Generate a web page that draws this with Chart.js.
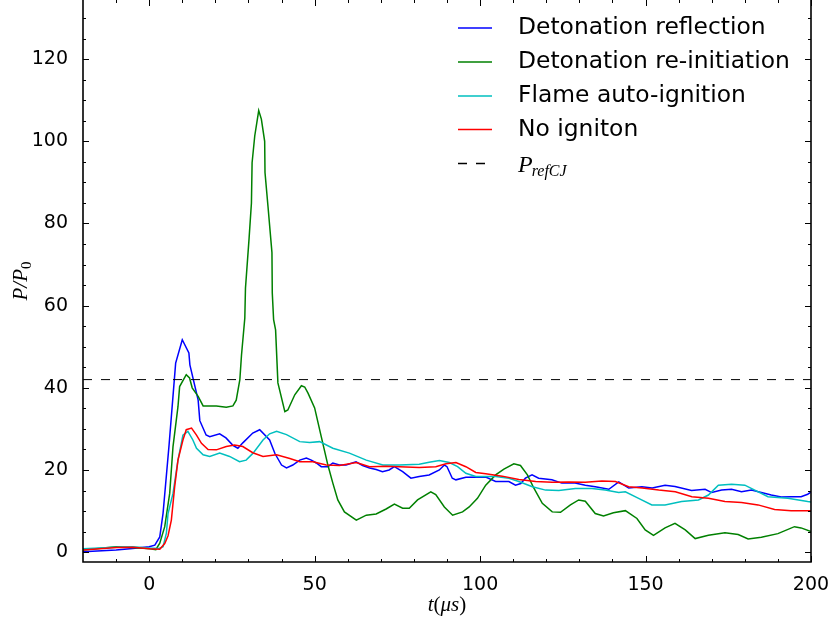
<!DOCTYPE html>
<html>
<head>
<meta charset="utf-8">
<script src="https://cdn.jsdelivr.net/npm/chart.js@4.4.0/dist/chart.umd.min.js"></script>
<style>
  html, body { margin: 0; padding: 0; background: #fff; }
  canvas { display: block; }
</style>
</head>
<body>
<canvas id="myChart" width="832" height="623"></canvas>
<script>
// time (us) and P/P0, one pair of arrays per case
var tReflection = [-20, -10, -5, 0, 1.7, 3.2, 4.2, 6, 8, 10, 12, 12.3, 14.8, 15.3, 17.2, 18.3, 21.3, 23.2, 25.3, 26.8,
    28.3, 31.3, 33.4, 36.4, 38, 40, 41.5, 43.4, 45.5, 47.5, 49, 50.5, 52, 54, 55.5, 57.5, 59.5, 62.5, 64.5, 66.6,
    68.6, 70.5, 72.5, 74.1, 76.6, 79.1, 81.6, 84.6, 87.7, 89.2, 90, 91.6, 92.7, 95.7, 101.7, 104.7, 108.7, 110.7, 112.3, 113.7,
    115.7, 117.7, 121.7, 124.7, 128.7, 131.8, 134.8, 138.9, 141.9, 144.9, 148.9, 152, 155.9, 158.9, 163.9, 168, 170, 173, 176, 179,
    182, 185, 188, 191, 194, 197, 199, 200];
var pReflection = [0.1, 0.5, 0.9, 1.3, 1.7, 3.7, 9.5, 26, 46, 51.7, 48.5, 45.6, 37, 32, 28.5, 28.1, 28.8, 27.8, 26, 25.3,
    26.6, 29, 29.8, 27.3, 24, 21.2, 20.5, 21.2, 22.4, 22.9, 22.4, 21.7, 20.8, 20.8, 21.7, 21.2, 21.2, 22, 21.1, 20.5,
    20.1, 19.6, 20, 20.8, 19.6, 18, 18.4, 18.8, 20, 21.2, 20.8, 18, 17.6, 18.2, 18.3, 17.2, 17.2, 16.3, 16.7, 18,
    18.8, 18, 17.6, 16.8, 16.8, 16.3, 15.9, 15.3, 17.1, 15.6, 15.9, 15.6, 16.3, 16, 15, 15.3, 14.5, 15.1, 15.3, 14.7,
    15.1, 14.5, 13.9, 13.4, 13.5, 13.5, 14.1, 14.6];

var tReinit = [-20, -10, -5, 0.2, 2, 3.2, 4.7, 6.2, 7.2, 8.7, 9.2, 11.2, 12.2, 13, 14.8, 16.3, 20.3, 23.3, 25.3, 26.3,
    27.4, 27.9, 28.9, 29.1, 30.2, 30.9, 31.1, 31.9, 33.1, 33.9, 34.9, 35.0, 35.9, 37.1, 37.2, 37.6, 38.2, 38.9, 41, 41.9,
    44, 46, 47, 48, 50, 52, 54, 55.5, 57, 59, 62.6, 65.6, 68.6, 71.6, 74.1, 76.6, 78.6, 81.1, 85.1, 86.6,
    89.2, 91.7, 94.7, 96.7, 99.2, 101.7, 104.7, 107.2, 110.2, 112.2, 114.3, 116.3, 118.8, 121.8, 124.3, 127.3, 129.8, 131.8, 134.8, 137.3,
    140.3, 143.9, 147.4, 149.9, 152.4, 155.9, 158.9, 162, 165, 169, 174, 178, 181, 185, 190, 195, 197, 200];
var pReinit = [0.5, 1.3, 1.1, 0.8, 0.6, 2.2, 6.2, 14.3, 25.7, 35.4, 40.3, 43.2, 42.4, 40, 37.9, 35.6, 35.6, 35.3, 35.6, 37,
    42, 48, 57, 64.3, 76.5, 85, 94.8, 101.3, 107.5, 105.4, 100, 92.4, 84.2, 72.9, 63.1, 56.6, 54.1, 41.2, 34.2, 34.6,
    38.3, 40.5, 40.2, 38.7, 35.1, 28.1, 21.2, 16.8, 12.7, 9.8, 7.8, 9, 9.3, 10.5, 11.7, 10.7, 10.7, 12.7, 14.7, 14,
    11, 9, 9.8, 11, 13.1, 16.3, 18.8, 20.2, 21.5, 21.1, 18.8, 15.5, 11.9, 9.8, 9.7, 11.5, 12.7, 12.4, 9.4, 8.8,
    9.6, 10.1, 8.2, 5.4, 4.1, 5.9, 7, 5.4, 3.3, 4.1, 4.7, 4.3, 3.2, 3.6, 4.5, 6.2, 5.9, 5.0];

var tAutoIgn = [-20, -10, -5, 0, 3, 4.2, 5.2, 5.7, 7.2, 8.7, 10.2, 11.7, 13.2, 14.3, 16.3, 18.3, 21.3, 24.3, 27.3, 29.3,
    31.4, 34.4, 36.4, 38.5, 41.5, 45.5, 48.5, 51.5, 55.5, 60.5, 65.6, 70.6, 75.6, 81.6, 84.6, 87.7, 90.7, 93.2, 95.7, 98.7,
    104.7, 108.7, 111.7, 115.8, 119.8, 123.8, 128.8, 133.8, 137.8, 141.9, 143.9, 147.9, 151.9, 155.9, 160.9, 166, 169, 172, 176, 180,
    183, 187, 193, 199, 200];
var pAutoIgn = [0.8, 1.2, 1.3, 1.0, 0.9, 1.3, 4.6, 9.4, 14.3, 22.4, 28.5, 29.4, 27.3, 25.3, 23.7, 23.3, 24.1, 23.3, 22, 22.4,
    24.1, 27.3, 28.8, 29.4, 28.6, 26.9, 26.7, 26.9, 25.3, 24.1, 22.4, 21.2, 21.2, 21.4, 21.9, 22.3, 21.8, 20.8, 19.2, 18.4,
    18.4, 18, 17.2, 15.9, 15.1, 15, 15.5, 15.5, 15.1, 14.5, 14.7, 13.1, 11.5, 11.5, 12.3, 12.7, 13.9, 16.3, 16.5, 16.3,
    15.1, 13.5, 13.1, 12.3, 12.2];

var tNoIgn = [-20, -9.8, -5, 0.2, 3.2, 4.7, 5.7, 6.7, 7.7, 8.7, 10.2, 11.2, 12.8, 14.3, 15.8, 17.8, 20.3, 23.3, 25.8, 28.3,
    31.3, 34.4, 38.5, 42.5, 45.5, 49.5, 53.5, 57.5, 62.6, 66.6, 71.6, 75.6, 81.6, 86.6, 89.7, 92.7, 95.7, 98.7, 101.7, 106.7,
    111.7, 116.8, 121.8, 126.8, 131.8, 136.8, 140.9, 144.9, 149, 154, 159, 164, 169, 174, 179, 184, 189, 194, 200];
var pNoIgn = [0.5, 1.1, 1.2, 0.8, 0.7, 2.1, 4, 7.8, 15.9, 22.4, 27.3, 29.8, 30.2, 28.5, 26.5, 25, 24.9, 25.7, 26.1, 25.7,
    24.2, 23.3, 23.7, 22.8, 22, 22, 21.2, 21.1, 21.8, 20.8, 20.9, 20.8, 20.6, 20.8, 21.5, 21.8, 20.8, 19.4, 19.1, 18.5,
    17.7, 17.2, 17, 17.1, 17, 17.3, 17.2, 15.9, 15.6, 15.1, 14.7, 13.5, 13.1, 12.3, 12.1, 11.5, 10.4, 10.1, 10.1];

var tRef = [-20, 200];
var pRef = [42, 42];

var xTicks = [0, 50, 100, 150, 200];
var yTicks = [0, 20, 40, 60, 80, 100, 120];

function pts(t, p) {
    return t.map(function (v, i) { return { x: v, y: p[i] }; });
}

// inward ticks on all four sides + spines (matplotlib classic look)
var axisDecor = {
    id: 'axisDecor',
    afterDatasetsDraw: function (chart) {
        var c = chart.ctx, a = chart.chartArea;
        var xs = chart.scales.x, ys = chart.scales.y;
        c.save();
        c.strokeStyle = '#000';
        c.lineWidth = 1;
        function tick(x1, y1, x2, y2) {
            c.beginPath(); c.moveTo(x1, y1); c.lineTo(x2, y2); c.stroke();
        }
        var v, px, len;
        for (v = -10; v <= 200; v += 10) {
            px = Math.round(xs.getPixelForValue(v)) + 0.5;
            len = v % 50 === 0 ? 6 : 3;
            tick(px, a.bottom, px, a.bottom - len);
            tick(px, a.top, px, a.top + len);
        }
        for (v = 0; v <= 130; v += 5) {
            px = Math.round(ys.getPixelForValue(v)) + 0.5;
            len = v % 20 === 0 ? 6 : 3;
            tick(a.left, px, a.left + len, px);
            tick(a.right, px, a.right - len, px);
        }
        c.lineWidth = 1.6;
        c.beginPath();
        c.moveTo(a.left, a.top - 2);
        c.lineTo(a.left, a.bottom);
        c.lineTo(a.right, a.bottom);
        c.lineTo(a.right, a.top - 2);
        c.stroke();
        c.restore();
    }
};

function drawPieces(c, pieces, x, y) {
    // pieces laid out left to right, x is the centre of the whole run
    var total = 0;
    pieces.forEach(function (p) { c.font = p.font; total += c.measureText(p.text).width; });
    var cx = x - total / 2;
    pieces.forEach(function (p) {
        c.font = p.font;
        c.fillText(p.text, cx, y + (p.dy || 0));
        cx += c.measureText(p.text).width;
    });
}

var labelsAndLegend = {
    id: 'labelsAndLegend',
    afterDraw: function (chart) {
        var c = chart.ctx;
        c.save();
        c.fillStyle = '#000';
        c.textBaseline = 'alphabetic';
        c.textAlign = 'left';
        var it = 'italic 21px "Liberation Serif"';
        var up = '21px "Liberation Serif"';
        // x title
        drawPieces(c, [
            { text: 't', font: it }, { text: '(', font: up },
            { text: '\u03bcs', font: it }, { text: ')', font: up }
        ], 447, 611);
        // y title
        c.translate(27, 281);
        c.rotate(-Math.PI / 2);
        drawPieces(c, [
            { text: 'P/P', font: it }, { text: '0', font: '15px "Liberation Serif"', dy: 4 }
        ], 0, 0);
        c.setTransform(1, 0, 0, 1, 0, 0);

        // legend
        var rowY = [28, 62, 96, 129.5, 163.5];
        chart.data.datasets.forEach(function (ds, i) {
            var y = rowY[i];
            c.strokeStyle = ds.borderColor;
            c.lineWidth = 1.5;
            c.setLineDash(ds.borderDash || []);
            c.beginPath();
            c.moveTo(458, y);
            c.lineTo(492, y);
            c.stroke();
            c.setLineDash([]);
            if (ds.label === 'P_refCJ') {
                c.textBaseline = 'alphabetic';
                c.font = 'italic 24px "Liberation Serif"';
                c.fillText('P', 518, y + 8);
                var w = c.measureText('P').width;
                c.font = 'italic 16px "Liberation Serif"';
                c.fillText('refCJ', 518 + w - 1, y + 12);
            } else {
                c.textBaseline = 'middle';
                c.font = '23.4px "DejaVu Sans"';
                c.fillText(ds.label, 518, y);
            }
        });
        c.restore();
    }
};

var ctx = document.getElementById('myChart').getContext('2d');
var myChart = new Chart(ctx, {
    type: 'line',
    data: {
        datasets: [{
            label: 'Detonation reflection',
            data: pts(tReflection, pReflection),
            borderColor: '#0000ff',
            order: 5
        }, {
            label: 'Detonation re-initiation',
            data: pts(tReinit, pReinit),
            borderColor: '#008000',
            order: 4
        }, {
            label: 'Flame auto-ignition',
            data: pts(tAutoIgn, pAutoIgn),
            borderColor: '#00bfbf',
            order: 3
        }, {
            label: 'No igniton',
            data: pts(tNoIgn, pNoIgn),
            borderColor: '#ff0000',
            order: 2
        }, {
            label: 'P_refCJ',
            data: pts(tRef, pRef),
            borderColor: '#000000',
            borderWidth: 1,
            borderDash: [9, 9],
            order: 1
        }]
    },
    options: {
        responsive: false,
        animation: false,
        devicePixelRatio: 1,
        layout: { padding: { left: 0, right: 21, top: 0, bottom: 0 } },
        elements: {
            point: { radius: 0 },
            line: { borderWidth: 1.5, tension: 0, fill: false }
        },
        plugins: {
            legend: { display: false },
            tooltip: { enabled: false },
            title: { display: false }
        },
        scales: {
            x: {
                type: 'linear',
                min: -20,
                max: 200,
                grid: { display: false },
                border: { display: false },
                ticks: { color: '#000', padding: 4, font: { family: 'DejaVu Sans', size: 19 } },
                afterBuildTicks: function (s) { s.ticks = xTicks.map(function (v) { return { value: v }; }); },
                afterFit: function (s) { s.height = 61; s.paddingLeft = 0; s.paddingRight = 0; }
            },
            y: {
                type: 'linear',
                min: -2.4,
                max: 134.4,
                grid: { display: false },
                border: { display: false },
                ticks: { color: '#000', padding: 7, font: { family: 'DejaVu Sans', size: 19 } },
                afterBuildTicks: function (s) { s.ticks = yTicks.map(function (v) { return { value: v }; }); },
                afterFit: function (s) { s.width = 83; s.paddingTop = 0; s.paddingBottom = 0; }
            }
        }
    },
    plugins: [axisDecor, labelsAndLegend]
});
</script>
</body>
</html>
